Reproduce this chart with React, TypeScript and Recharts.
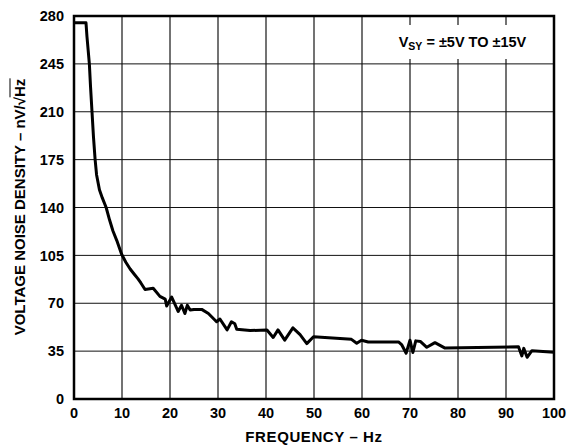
import React from "react";
import {
  LineChart,
  Line,
  XAxis,
  YAxis,
  CartesianGrid,
  ReferenceArea,
} from "recharts";

// frequency (Hz) and voltage noise density (nV/√Hz)
const freq = [
  0, 2.5, 2.7, 2.95, 3.2, 3.45, 3.75, 4.05, 4.4, 4.7, 5.3, 5.9, 6.7, 7.4, 8.1,
  8.9, 9.9, 10.8, 11.7, 12.6, 13.3, 13.9, 14.8, 16.5, 17.9, 19.0, 19.3, 20.35,
  21.7, 22.4, 23.1, 23.6, 24.2, 25, 26.6, 28, 29.7, 30.4, 31.9, 32.8, 33.5,
  33.9, 36.7, 40.2, 41.5, 42.5, 43.9, 45.6, 47.1, 48.5, 49.9, 57.8, 58.9, 59.9,
  61.3, 67.6, 68.3, 69.2, 70, 70.6, 71.2, 72.2, 73.5, 75.2, 77.3, 92.6, 93.3,
  93.7, 94.4, 95.4, 100,
];
const density = [
  275, 275, 265, 255, 245, 228, 210, 192, 175, 164, 153, 147, 140, 131, 123,
  116, 106, 100, 95, 91, 88, 85, 80, 81, 75, 73, 68, 74.5, 64, 68.5, 62.5,
  68.5, 65, 65.5, 65.5, 62.5, 56.5, 58.5, 50.5, 56.5, 55, 51, 50, 50.5, 45,
  50.5, 43, 52, 47, 40.5, 45.5, 43.6, 40.8, 43, 41.7, 41.7, 39.5, 33.5, 43, 34,
  42.5, 42, 37.8, 41.2, 37.2, 38.2, 31.5, 37, 30.5, 35.3, 34.2,
];

const xTicks = [0, 10, 20, 30, 40, 50, 60, 70, 80, 90, 100];
const yTicks = [0, 35, 70, 105, 140, 175, 210, 245, 280];

const data = freq.map((f, i) => ({ f, v: density[i] }));

const FONT = "'Liberation Sans', Arial, Helvetica, sans-serif";
const tickStyle = { fontSize: 14.5, fontWeight: 700, fill: "#000", fontFamily: FONT };

export default function App() {
  return (
    <div
      style={{
        position: "absolute",
        left: 0,
        top: 0,
        width: 577,
        height: 447,
        background: "#fff",
        fontFamily: FONT,
      }}
    >
      <LineChart
        width={577}
        height={447}
        data={data}
        margin={{ top: 16, right: 23, bottom: 18, left: 14 }}
      >
        <CartesianGrid horizontal={false} stroke="#444" strokeWidth={1.5} />
        <CartesianGrid vertical={false} stroke="#111" strokeWidth={1} />
        <XAxis
          dataKey="f"
          type="number"
          domain={[0, 100]}
          ticks={xTicks}
          height={30}
          tickSize={0}
          tickMargin={9}
          axisLine={false}
          tick={tickStyle}
          interval={0}
        />
        <YAxis
          type="number"
          domain={[0, 280]}
          ticks={yTicks}
          width={60}
          tickSize={0}
          tickMargin={10}
          axisLine={false}
          tick={tickStyle}
          interval={0}
        />
        <Line
          type="linear"
          dataKey="v"
          stroke="#000"
          strokeWidth={3}
          dot={false}
          strokeLinejoin="round"
          isAnimationActive={false}
        />
        <ReferenceArea
          x1={0}
          x2={100}
          y1={0}
          y2={280}
          fill="none"
          stroke="#000"
          strokeWidth={2.5}
        />
      </LineChart>

      {/* supply-range note */}
      <div
        style={{
          position: "absolute",
          left: 384,
          top: 25,
          width: 157,
          height: 34,
          background: "#fff",
          fontSize: 14.5,
          fontWeight: 700,
          lineHeight: "34px",
          textAlign: "center",
          whiteSpace: "nowrap",
        }}
      >
        V<sub style={{ fontSize: 10.5, verticalAlign: "-3px" }}>SY</sub> = ±5V TO ±15V
      </div>

      {/* x-axis title */}
      <div
        style={{
          position: "absolute",
          left: 0,
          width: 628,
          top: 428,
          textAlign: "center",
          fontSize: 15,
          fontWeight: 700,
          letterSpacing: 0.6,
        }}
      >
        FREQUENCY – Hz
      </div>

      {/* y-axis title */}
      <div
        style={{
          position: "absolute",
          left: 19,
          top: 207,
          transform: "translate(-50%, -50%) rotate(-90deg)",
          fontSize: 15,
          fontWeight: 700,
          whiteSpace: "nowrap",
        }}
      >
        VOLTAGE NOISE DENSITY – nV/√
        <span style={{ borderTop: "1.5px solid #000" }}>Hz</span>
      </div>
    </div>
  );
}
